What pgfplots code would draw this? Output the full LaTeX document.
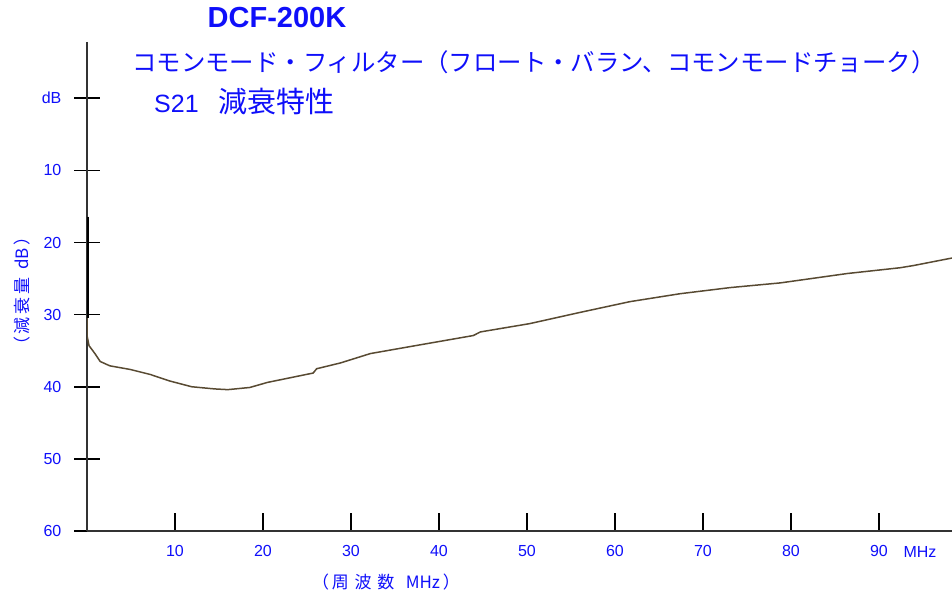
\documentclass[border=0pt]{standalone}
\usepackage{fontspec}
\setmainfont{Liberation Sans}
\newfontfamily\jp{Noto Sans CJK JP}
\usepackage{pgfplots}
\pgfplotsset{compat=1.18}
\definecolor{curve}{RGB}{88,74,50}
\definecolor{tblue}{RGB}{15,15,250}
\begin{document}
\begin{tikzpicture}[x=1pt,y=1pt]
\path[use as bounding box] (0,0) rectangle (952,599);
\begin{axis}[
 at={(87pt,68pt)}, anchor=south west,
 scale only axis, width=865pt, height=489pt,
 xmin=0, xmax=98.3, ymin=-7.8, ymax=60, y dir=reverse,
 axis x line=bottom, axis y line=left,
 axis line style={-, line width=1.3pt, black!80},
 xtick={10,20,...,90}, ytick={0,10,...,60},
 xticklabels={10,20,30,40,50,60,70,80,90},
 yticklabels={dB,10,20,30,40,50,60},
 xtick align=inside, ytick align=center,
 xtick style={line width=1.5pt, black, /pgfplots/major tick length=18pt},
 ytick style={line width=1.5pt, black, /pgfplots/major tick length=26pt},
 ticklabel style={font=\fontsize{16}{18}\selectfont, text=tblue},
 xticklabel style={yshift=-11pt},
 yticklabel style={xshift=-20pt},
 /pgf/number format/assume math mode=true,
]
\addplot[black, line width=3.2pt] coordinates {(0,16.4) (0,30.5)};
\addplot[curve, line width=1.5pt] coordinates {
(0,30.5) (0,32.9) (0.23,34.3) (0.9,35.4) (1.5,36.5) (2.6,37.1) (4.9,37.6) (7.2,38.3)
(9.4,39.2) (11.9,40.0) (14.5,40.3) (16.0,40.4) (18.5,40.1) (20.5,39.4) (23.1,38.75)
(25.7,38.1) (26.1,37.5) (28.8,36.7) (32.2,35.4) (37.8,34.2) (43.9,32.9) (44.7,32.4)
(50.3,31.25) (56.0,29.7) (61.7,28.2) (67.4,27.1) (73.1,26.25) (78.8,25.6) (86.4,24.3)
(92.4,23.5) (93.9,23.2) (98.1,22.2) (98.3,22.15)
};
\end{axis}
\node[font=\bfseries\fontsize{29}{31}\selectfont, text=tblue] at (277,581) {DCF-200K};
\node[anchor=west, inner sep=0pt, font=\jp\fontsize{24.4}{26}\selectfont, text=tblue] at (132,537) {コモンモード・フィルター（フロート・バラン、コモンモードチョーク）};
\node[anchor=west, inner sep=0pt, text=tblue] at (154,497) {\fontsize{25}{27}\selectfont S21\hspace{20pt}{\jp\fontsize{29}{31}\selectfont 減衰特性}};
\node[rotate=90, text=tblue, font=\jp\fontsize{17}{19}\selectfont] at (22,308) {（\,減\,衰\,量\ \ dB\,）};
\node[text=tblue, font=\jp\fontsize{17}{19}\selectfont] at (386,17) {（\,周\,\,波\,\,数\ \ \ MHz\,）};
\node[text=tblue, font=\fontsize{16}{18}\selectfont] at (920,47) {MHz};
\end{tikzpicture}
\end{document}
